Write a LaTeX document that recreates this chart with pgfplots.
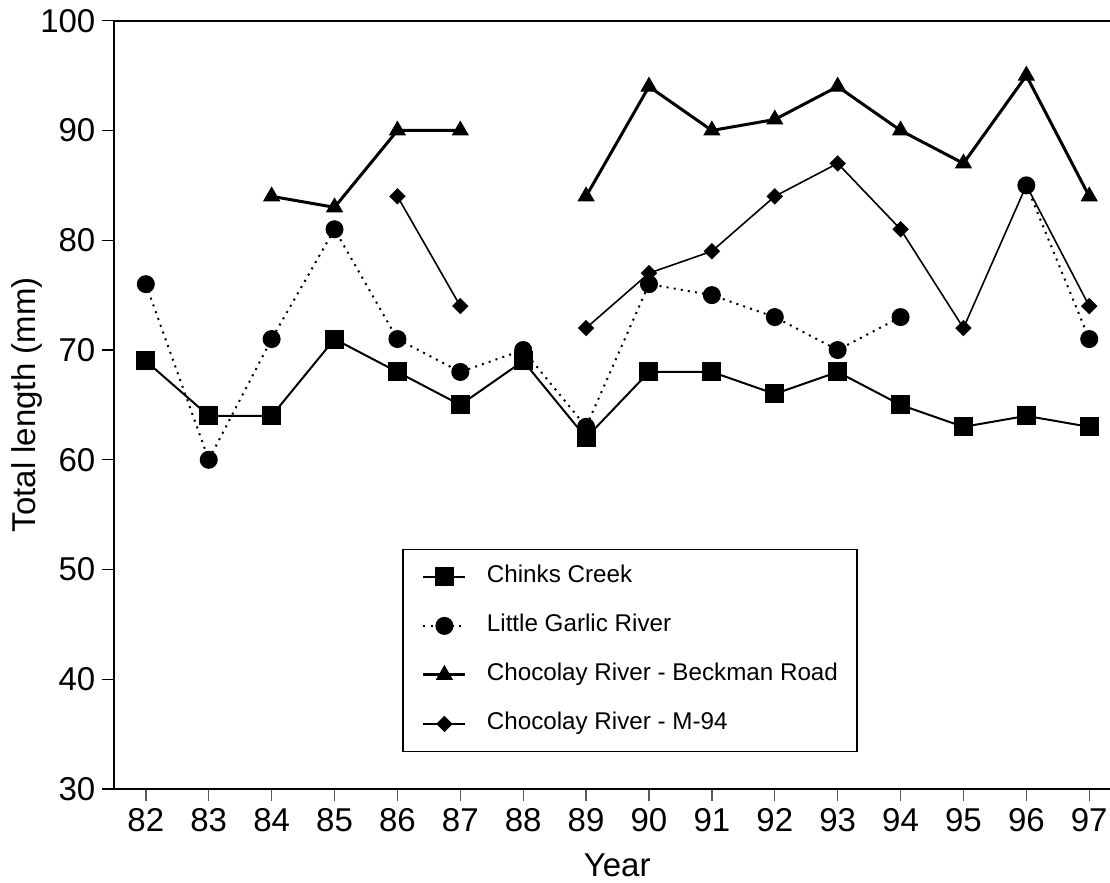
\documentclass[border=0pt]{standalone}
\usepackage{pgfplots}
\pgfplotsset{compat=1.18}
\usepackage{fontspec}
\setmainfont{Liberation Sans}
\begin{document}
\begin{tikzpicture}
\begin{axis}[
  scale only axis, width=497.8pt, height=384.2pt,
  xmin=81.5, xmax=97.33, ymin=30, ymax=100,
  axis lines*=left, axis line style={line width=1pt, -},
  xtick={82,83,...,97}, ytick={30,40,...,100},
  tick align=outside, major tick length=6pt,
  xtick style={gray!70!black, line width=0.7pt},
  ytick style={black, line width=0.6pt},
  /pgf/number format/assume math mode=true,
  ticklabel style={font=\fontsize{16.5}{19}\selectfont},
  xlabel={Year}, ylabel={Total length (mm)},
  label style={font=\fontsize{16.5}{19}\selectfont},
  xlabel style={at={(axis description cs:0.505,-0.099)}, anchor=center},
  ylabel style={at={(axis description cs:-0.0876,0.5)}, anchor=center},
  unbounded coords=jump,
  clip=false,
  legend cell align=left,
  legend image code/.code={\draw[mark repeat=2,mark phase=2] plot coordinates {(0pt,0pt)(10.5pt,0pt)(21pt,0pt)};},
  legend style={at={(axis description cs:0.289,0.048)}, anchor=south west,
    draw=black, line width=0.8pt, inner xsep=9.5pt, inner ysep=8.75pt,
    row sep=14.5pt, column sep=10pt,
    font=\fontsize{12.1}{14}\selectfont,
    nodes={inner sep=0pt, text height=8pt, text depth=2pt}},
]
\addplot[black, line width=1pt, mark=square*, mark size=4.25pt, mark options={solid}] coordinates {
(82,69)(83,64)(84,64)(85,71)(86,68)(87,65)(88,69)(89,62)(90,68)(91,68)(92,66)(93,68)(94,65)(95,63)(96,64)(97,63)};
\addlegendentry{Chinks Creek}
\addplot[black, line width=1pt, dash pattern=on 1pt off 2.6pt, mark=*, mark size=4pt, mark options={solid}] coordinates {
(82,76)(83,60)(84,71)(85,81)(86,71)(87,68)(88,70)(89,63)(90,76)(91,75)(92,73)(93,70)(94,73)(95,nan)(96,85)(97,71)};
\addlegendentry{Little Garlic River}
\addplot[black, line width=1.5pt, mark=triangle*, mark size=4.5pt, mark options={solid, line width=0.5pt}] coordinates {
(84,84)(85,83)(86,90)(87,90)(88,nan)(89,84)(90,94)(91,90)(92,91)(93,94)(94,90)(95,87)(96,95)(97,84)};
\addlegendentry{Chocolay River - Beckman Road}
\addplot[black, line width=0.8pt, mark=square*, mark size=2.5pt, mark options={solid, rotate=45}] coordinates {
(86,84)(87,74)(88,nan)(89,72)(90,77)(91,79)(92,84)(93,87)(94,81)(95,72)(96,85)(97,74)};
\addlegendentry{Chocolay River - M-94}
\draw[line width=1pt] (rel axis cs:0,1) -- (rel axis cs:1,1);
\end{axis}
\pgfresetboundingbox
\path (-57.2pt,-46.5pt) rectangle (497.8pt,394.55pt);
\end{tikzpicture}
\end{document}
